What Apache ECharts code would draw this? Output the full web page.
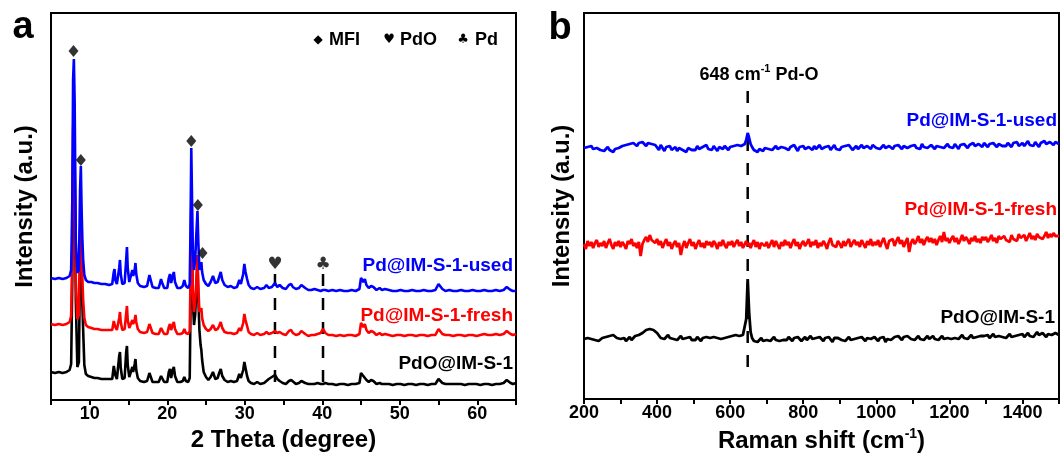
<!DOCTYPE html>
<html><head><meta charset="utf-8">
<script src="https://cdn.jsdelivr.net/npm/echarts@6/dist/echarts.min.js"></script>
<style>html,body{margin:0;padding:0;background:#fff}#c{width:1062px;height:462px}</style>
</head><body><div id="c"></div>
<script>
// ---------- Panel a: XRD ----------
const xrdX = [
  5.0,5.5,6.0,6.5,7.0,7.4,7.6,7.75,7.85,7.95,8.05,8.2,8.4,8.6,8.75,8.85,8.95,9.05,9.15,9.3,9.5,9.8,
  10.2,10.6,11.0,11.5,12.0,12.5,12.9,13.1,13.2,13.3,13.5,13.8,13.9,14.0,14.2,14.5,14.7,14.8,14.9,
  15.1,15.3,15.5,15.6,15.8,15.9,16.0,16.2,16.5,17.0,17.4,17.7,17.8,18.1,18.5,18.9,19.2,19.3,19.6,
  20.0,20.2,20.35,20.5,20.7,20.85,21.0,21.3,21.7,22.0,22.2,22.4,22.7,22.9,
  23.0,23.1,23.2,23.3,23.45,23.6,23.75,23.9,24.0,24.15,24.3,24.4,24.5,24.7,25.0,
  25.3,25.6,25.9,26.0,26.2,26.5,26.7,26.9,27.1,27.4,27.8,28.2,28.6,29.0,29.3,29.5,29.8,
  29.95,30.1,30.3,30.5,30.8,31.2,31.6,32.0,32.5,32.8,33.1,33.5,33.9,34.2,34.5,34.9,
  35.3,35.7,36.0,36.2,36.6,37.0,37.3,37.5,37.8,38.2,38.6,39.0,39.4,39.8,40.1,40.4,40.8,
  41.3,41.8,42.3,42.8,43.3,43.8,44.3,44.8,45.0,45.15,45.3,45.5,45.7,46.0,46.3,46.6,47.0,47.4,47.7,
  48.1,48.6,49.1,49.6,50.1,50.6,51.1,51.6,52.1,52.6,53.1,53.6,54.1,54.6,55.0,55.2,55.5,55.9,56.4,56.9,
  57.4,57.9,58.4,58.9,59.4,59.9,60.4,60.9,61.4,61.9,62.4,62.9,63.4,63.8,64.0,64.3,64.6,65.0
];
const xrdUsed = [
  122,121,122,121,122,124,130,200,320,341,300,160,127,130,210,234,190,160,140,125,120,118,
  118,117,117,116,116,115,116,128,131,120,116,132,140,126,116,117,140,153,132,
  118,116,130,124,130,137,126,117,114,113,114,125,122,113,112,112,121,118,112,
  112,122,126,117,124,128,118,112,112,114,120,114,112,116,
  170,252,200,150,130,140,165,189,160,130,132,138,128,120,116,
  114,118,124,125,117,118,123,128,120,115,113,114,112,113,120,116,126,
  136,128,121,115,112,111,113,111,112,115,112,113,117,113,115,112,
  111,115,116,113,111,112,115,116,112,110,110,111,110,109,110,110,109,
  110,109,110,109,109,110,109,111,122,120,118,121,115,112,114,113,110,112,110,
  111,110,109,109,110,109,109,110,109,109,110,109,109,110,116,115,111,109,110,109,
  109,110,109,109,110,109,109,110,109,109,110,109,110,113,112,110,109,109
];
const xrdFresh = [
  76,75,76,75,76,78,84,150,270,290,250,120,81,85,170,195,150,120,100,82,75,73,
  72,71,71,70,70,70,70,79,81,73,70,82,88,78,70,71,86,94,80,
  72,70,80,76,80,85,78,71,68,67,68,76,74,67,66,66,72,70,66,
  66,73,76,70,75,78,71,66,66,67,71,67,66,69,
  120,200,155,110,88,98,118,145,115,88,88,92,82,75,71,
  69,71,75,76,70,71,74,78,72,68,67,67,66,67,72,69,77,
  86,80,74,68,66,65,67,65,66,68,66,67,69,67,68,66,
  65,69,70,67,65,66,69,70,66,64,65,65,66,67,71,67,65,
  65,64,65,64,65,65,64,66,77,75,73,76,70,67,69,68,65,67,65,
  66,65,64,65,65,64,65,65,64,65,65,64,65,65,71,70,66,65,65,64,
  65,65,64,65,65,64,65,66,65,65,66,65,66,69,68,66,65,66
];
const xrdPdO = [
  28,27,28,27,28,30,36,120,240,270,230,100,33,38,140,170,130,95,70,35,26,24,
  23,22,22,21,21,21,21,34,36,25,21,44,48,32,21,22,48,54,35,
  23,21,33,28,36,41,30,22,19,18,19,27,25,18,18,18,24,22,18,
  18,28,31,22,30,33,24,18,18,19,23,19,18,22,
  90,190,150,100,75,85,110,140,105,70,55,50,40,28,23,
  20,23,28,29,21,22,27,31,24,20,18,19,18,19,26,22,30,
  38,32,24,19,17,16,18,16,17,19,21,23,25,21,19,17,
  16,19,20,18,16,17,19,20,17,16,16,16,17,16,16,17,16,
  16,15,16,16,15,16,16,17,27,26,24,26,20,18,20,19,16,17,16,
  16,16,15,16,16,15,16,16,15,16,16,15,16,16,21,20,17,16,16,16,
  16,16,15,16,16,16,15,16,16,15,16,16,17,20,19,17,16,17
];
const mfiMarkX = [7.9, 8.85, 23.1, 23.95, 24.55];
const mfiMarkY = [349, 240, 259, 195, 147];
const phaseLineX = [33.9, 40.1];
const phaseGlyphs = ['\u2665', '\u2663'];
const phaseGlyphY = 135;
const phaseLineRange = [126, 9];
const xrdTickLabels = [10, 20, 30, 40, 50, 60];

// ---------- Panel b: Raman ----------
const ramanX = [
  200,205,210,215,220,225,230,235,240,245,
  250,255,260,265,270,275,280,285,290,295,
  300,305,310,315,320,325,330,335,340,345,
  350,355,360,365,370,375,380,385,390,395,
  400,405,410,415,420,425,430,435,440,445,
  450,455,460,465,470,475,480,485,490,495,
  500,505,510,515,520,525,530,535,540,545,
  550,555,560,565,570,575,580,585,590,595,
  600,605,610,615,620,625,630,635,640,644,648,652,656,
  660,665,670,675,680,685,690,695,
  700,705,710,715,720,725,730,735,740,745,
  750,755,760,765,770,775,780,785,790,795,
  800,805,810,815,820,825,830,835,840,845,
  850,855,860,865,870,875,880,885,890,895,
  900,905,910,915,920,925,930,935,940,945,
  950,955,960,965,970,975,980,985,990,995,
  1000,1005,1010,1015,1020,1025,1030,1035,1040,1045,
  1050,1055,1060,1065,1070,1075,1080,1085,1090,1095,
  1100,1105,1110,1115,1120,1125,1130,1135,1140,1145,
  1150,1155,1160,1165,1170,1175,1180,1185,1190,1195,
  1200,1205,1210,1215,1220,1225,1230,1235,1240,1245,
  1250,1255,1260,1265,1270,1275,1280,1285,1290,1295,
  1300,1305,1310,1315,1320,1325,1330,1335,1340,1345,
  1350,1355,1360,1365,1370,1375,1380,1385,1390,1395,
  1400,1405,1410,1415,1420,1425,1430,1435,1440,1445,
  1450,1455,1460,1465,1470,1475,1480,1485,1490,1495,
  1500
];
const ramanUsed = [
  251,249,252,250,253,250,248,251,252,249,
  251,248,250,252,249,251,247,250,249,251,
  250,253,251,254,252,255,253,256,254,253,
  256,254,257,255,253,256,258,255,257,254,
  252,249,254,251,248,252,250,253,249,251,
  252,248,251,253,249,250,247,251,252,249,
  251,249,253,250,248,252,251,254,250,252,
  249,253,251,248,252,254,250,253,251,249,
  252,250,253,251,254,252,253,251,255,259,266,261,255,
  252,249,251,247,250,252,248,251,
  253,250,252,249,251,253,250,248,252,250,
  251,253,249,252,250,254,251,248,252,250,
  253,250,248,252,251,249,253,250,252,254,
  250,248,252,251,253,249,251,254,250,252,
  249,252,250,253,251,254,252,249,251,253,
  250,252,254,251,249,253,251,250,254,252,
  251,253,250,252,254,251,249,253,252,250,
  253,251,254,252,250,253,255,251,249,253,
  252,254,251,253,250,255,252,254,251,253,
  254,252,250,253,255,252,254,251,253,255,
  252,254,251,255,253,250,254,252,255,253,
  251,254,252,256,253,251,255,253,252,256,
  254,252,255,253,256,254,252,255,257,253,
  255,253,256,254,252,256,254,257,253,255,
  256,253,255,258,254,256,253,257,255,252,
  256,254,258,255,253,257,255,254,257,255,
  255
];
const ramanFresh = [
  155,150,158,153,157,151,156,159,152,156,
  153,158,151,156,160,154,150,157,153,158,
  152,157,154,150,158,155,160,153,156,151,
  157,143,155,159,162,157,164,159,161,156,
  160,154,158,151,156,160,153,157,150,155,
  158,152,156,144,153,158,151,156,160,153,
  157,150,155,159,152,156,151,158,154,157,
  152,158,155,150,157,153,159,154,151,157,
  154,158,152,156,159,153,157,151,155,158,153,156,151,
  155,159,152,157,150,156,158,153,
  157,151,155,159,152,158,154,150,157,153,
  159,154,157,151,156,160,153,157,150,155,
  158,153,156,160,152,157,154,159,151,156,
  153,158,155,150,157,161,154,156,152,158,
  155,151,158,153,157,160,152,156,159,154,
  157,152,159,155,151,158,154,160,153,157,
  154,159,152,157,161,155,150,158,156,160,
  153,158,162,155,159,152,157,161,147,156,
  160,155,158,163,156,160,154,159,162,157,
  161,156,160,154,159,163,157,167,158,161,
  156,160,163,157,161,155,159,164,158,162,
  159,155,161,158,163,157,160,156,162,159,
  162,157,160,164,158,161,156,163,160,158,
  163,159,161,157,164,160,162,158,165,161,
  160,164,158,162,166,160,163,159,165,162,
  164,160,163,167,161,165,162,166,163,164,
  163
];
const ramanPdO = [
  60,58,61,59,60,62,59,61,58,60,
  61,59,62,60,63,62,64,63,61,62,
  60,59,61,58,60,62,59,61,63,62,
  64,63,66,67,69,71,70,72,69,68,
  66,64,61,63,60,62,64,61,63,60,
  62,59,61,63,60,58,61,60,62,59,
  61,59,62,60,58,61,59,62,60,61,
  59,62,60,61,63,60,62,61,63,62,
  61,63,62,64,62,63,65,64,66,80,120,86,67,
  61,58,60,57,59,61,58,60,
  59,61,58,60,62,59,61,58,60,59,
  61,59,62,60,58,61,59,62,60,58,
  60,62,59,61,63,60,58,61,59,62,
  60,58,61,59,62,60,57,61,59,61,
  62,59,61,58,60,62,59,61,60,58,
  61,59,62,60,58,61,63,60,59,62,
  60,58,61,59,62,57,60,62,59,61,
  62,60,63,61,59,62,60,63,61,60,
  62,59,61,63,60,62,59,61,63,60,
  61,63,60,62,59,61,63,60,62,61,
  63,60,62,61,63,60,62,64,61,62,
  60,62,64,61,63,62,60,63,61,63,
  62,64,61,63,65,62,60,63,64,62,
  64,61,63,65,62,64,63,61,64,63,
  65,62,64,66,63,65,62,64,67,64,
  63,66,64,62,65,67,64,63,66,65,
  64
];
const ramanRefX = 648;
const ramanRefRange = [308, 28];
const ramanTickLabels = [200, 400, 600, 800, 1000, 1200, 1400];

// ---------- build ----------
const FONT = '"Liberation Sans", Arial, Helvetica, sans-serif';
const zip = (xs, ys) => xs.map((x, i) => [x, ys[i]]);
const lineSeries = (name, xi, xs, ys, color, w) => ({
  name, type: 'line', xAxisIndex: xi, yAxisIndex: xi, data: zip(xs, ys),
  showSymbol: false, symbol: 'none', smooth: false,
  lineStyle: { color, width: w }, itemStyle: { color }, silent: true
});
const dashSeries = (xi, x, range) => ({
  type: 'line', xAxisIndex: xi, yAxisIndex: xi, data: [[x, range[0]], [x, range[1]]],
  symbol: 'none', lineStyle: { color: '#000', width: 2.5, type: [12, 12] }, silent: true, z: 1
});
const labelStyle = { color: '#000', fontSize: 18, fontWeight: 'bold', fontFamily: FONT };
const nameStyle = { color: '#000', fontSize: 24, fontWeight: 'bold', fontFamily: FONT };
const axLine = { show: true, onZero: false, lineStyle: { color: '#000', width: 2 } };
const txt = (x, y, text, fill, size, align, extra) => ({ type: 'text', x, y, silent: true,
  style: Object.assign({ text, fill, font: 'bold ' + size + 'px ' + FONT, align, verticalAlign: 'middle' }, extra || {}) });

const chart = echarts.init(document.getElementById('c'), null, { renderer: 'canvas' });
chart.setOption({
  animation: false,
  backgroundColor: '#fff',
  textStyle: { fontFamily: FONT },
  grid: [
    { left: 51, top: 13, width: 465, height: 387, show: true, borderColor: '#000', borderWidth: 2, backgroundColor: 'transparent' },
    { left: 584, top: 13, width: 481, height: 386, show: true, borderColor: '#000', borderWidth: 2, backgroundColor: 'transparent' }
  ],
  xAxis: [
    { gridIndex: 0, type: 'value', min: 5, max: 65, interval: 5, axisLine: axLine,
      axisTick: { show: true, inside: false, length: 5, lineStyle: { color: '#000', width: 2 } },
      splitLine: { show: false },
      axisLabel: Object.assign({ margin: 5, formatter: v => xrdTickLabels.includes(v) ? String(v) : '' }, labelStyle),
      name: '2 Theta (degree)', nameLocation: 'middle', nameGap: 28, nameTextStyle: nameStyle },
    { gridIndex: 1, type: 'value', min: 200, max: 1500, interval: 100, axisLine: axLine,
      axisTick: { show: true, inside: false, length: 5, lineStyle: { color: '#000', width: 2 } },
      splitLine: { show: false },
      axisLabel: Object.assign({ margin: 5, formatter: v => ramanTickLabels.includes(v) ? String(v) : '' }, labelStyle),
      name: 'Raman shift (cm{sup|-1})', nameLocation: 'middle', nameGap: 28,
      nameTextStyle: Object.assign({ rich: { sup: { fontSize: 14, fontWeight: 'bold', color: '#000', fontFamily: FONT, verticalAlign: 'top', lineHeight: 28 } } }, nameStyle) }
  ],
  yAxis: [
    { gridIndex: 0, type: 'value', min: 0, max: 387, axisLine: axLine, axisTick: { show: false },
      axisLabel: { show: false }, splitLine: { show: false },
      name: 'Intensity (a.u.)', nameLocation: 'middle', nameRotate: 90, nameGap: 14, nameTextStyle: nameStyle },
    { gridIndex: 1, type: 'value', min: 0, max: 386, axisLine: axLine, axisTick: { show: false },
      axisLabel: { show: false }, splitLine: { show: false },
      name: 'Intensity (a.u.)', nameLocation: 'middle', nameRotate: 90, nameGap: 10, nameTextStyle: nameStyle }
  ],
  series: [
    dashSeries(0, phaseLineX[0], phaseLineRange),
    dashSeries(0, phaseLineX[1], phaseLineRange),
    lineSeries('PdO@IM-S-1', 0, xrdX, xrdPdO, '#000000', 2.6),
    lineSeries('Pd@IM-S-1-fresh', 0, xrdX, xrdFresh, '#ff0000', 2.6),
    lineSeries('Pd@IM-S-1-used', 0, xrdX, xrdUsed, '#0000ff', 2.6),
    { type: 'scatter', xAxisIndex: 0, yAxisIndex: 0, data: zip(mfiMarkX, mfiMarkY),
      symbol: 'diamond', symbolSize: [10, 12], itemStyle: { color: '#000' }, silent: true, z: 5 },
    { type: 'scatter', xAxisIndex: 0, yAxisIndex: 0, data: phaseLineX.map(x => [x, phaseGlyphY]),
      symbol: 'circle', symbolSize: 1, itemStyle: { color: 'rgba(0,0,0,0)' }, silent: true, z: 5,
      label: { show: true, position: 'inside', formatter: p => phaseGlyphs[p.dataIndex],
               color: '#000', fontSize: 17, fontFamily: 'DejaVu Sans' } },
    dashSeries(1, ramanRefX, ramanRefRange),
    lineSeries('PdO@IM-S-1 (Raman)', 1, ramanX, ramanPdO, '#000000', 2.8),
    lineSeries('Pd@IM-S-1-fresh (Raman)', 1, ramanX, ramanFresh, '#ff0000', 2.8),
    lineSeries('Pd@IM-S-1-used (Raman)', 1, ramanX, ramanUsed, '#0000ff', 2.8)
  ],
  graphic: [
    txt(23, 28, 'a', '#000', 38, 'center'),
    txt(560, 29, 'b', '#000', 38, 'center'),
    { type: 'text', x: 318, y: 40, silent: true, style: { text: '\u25C6', fill: '#000', font: '12px "DejaVu Sans"', align: 'center', verticalAlign: 'middle' } },
    txt(329, 40, 'MFI', '#000', 18, 'left'),
    { type: 'text', x: 389, y: 40, silent: true, style: { text: '\u2665', fill: '#000', font: '13px "DejaVu Sans"', align: 'center', verticalAlign: 'middle' } },
    txt(400, 40, 'PdO', '#000', 18, 'left'),
    { type: 'text', x: 463, y: 40, silent: true, style: { text: '\u2663', fill: '#000', font: '13px "DejaVu Sans"', align: 'center', verticalAlign: 'middle' } },
    txt(475, 40, 'Pd', '#000', 18, 'left'),
    txt(513, 266, 'Pd@IM-S-1-used', '#0000ff', 19, 'right'),
    txt(513, 316, 'Pd@IM-S-1-fresh', '#ff0000', 19, 'right'),
    txt(513, 364, 'PdO@IM-S-1', '#000', 19, 'right'),
    txt(1057, 121, 'Pd@IM-S-1-used', '#0000ff', 19, 'right'),
    txt(1057, 210, 'Pd@IM-S-1-fresh', '#ff0000', 19, 'right'),
    txt(1055, 318, 'PdO@IM-S-1', '#000', 19, 'right'),
    txt(759, 75, '648 cm{sup|-1} Pd-O', '#000', 18, 'center',
        { rich: { sup: { fontSize: 11, fontWeight: 'bold', fill: '#000', verticalAlign: 'top', lineHeight: 24 } } })
  ]
});
</script></body></html>
